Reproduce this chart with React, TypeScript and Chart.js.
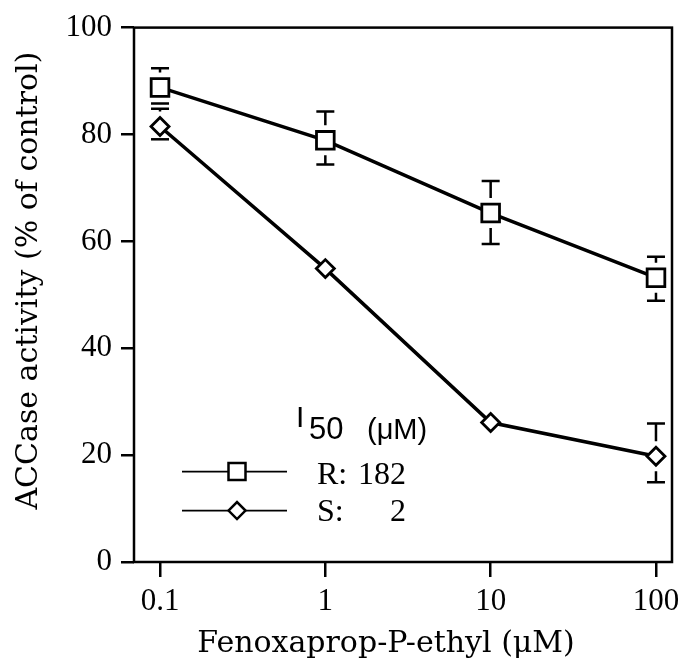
import React, { useEffect, useRef } from "react";
import { Chart, registerables } from "chart.js";

Chart.register(...registerables);

// ---- data ----
const concentrations = [0.1, 1, 10, 100];
const resistantMeans = [88.8, 78.9, 65.3, 53.2];
const resistantUpper = [92.4, 84.3, 71.3, 57.1];
const resistantLower = [85.8, 74.4, 59.5, 48.9];
const susceptibleMeans = [81.5, 54.9, 26.1, 19.8];
const susceptibleUpper: (number | null)[] = [84.8, null, null, 25.9];
const susceptibleLower: (number | null)[] = [79.1, null, null, 14.9];

const xTickValues = [0.1, 1, 10, 100];
const xTickLabels = ["0.1", "1", "10", "100"];
const yTickValues = [0, 20, 40, 60, 80, 100];

const xTitle = "Fenoxaprop-P-ethyl (μM)";
const yTitle = "ACCase activity (% of control)";
const legendHeading = ["I", "50", "(μM)"];
const legendNames = ["R:", "S:"];
const legendI50 = ["182", "2"];

const TICK_FONT = { family: "'Liberation Serif', serif", size: 31 };

const framePlugin = {
  id: "frame",
  beforeDatasetsDraw(chart: any) {
    const { ctx, chartArea: a } = chart;
    ctx.save();
    ctx.strokeStyle = "#000";
    ctx.lineWidth = 2.5;
    ctx.strokeRect(a.left, a.top, a.right - a.left, a.bottom - a.top);
    ctx.restore();
  },
};

const errorBarPlugin = {
  id: "errorBars",
  afterDatasetsDraw(chart: any) {
    const { ctx } = chart;
    const x = chart.scales.x;
    const y = chart.scales.y;
    const series = [
      { means: resistantMeans, up: resistantUpper, lo: resistantLower, half: 9 },
      { means: susceptibleMeans, up: susceptibleUpper, lo: susceptibleLower, half: 9 },
    ];
    const gap = 6;
    const capHalf = 9;
    ctx.save();
    ctx.strokeStyle = "#000";
    ctx.lineWidth = 2.5;
    series.forEach((s) => {
      concentrations.forEach((c, i) => {
        const px = x.getPixelForValue(c);
        const py = y.getPixelForValue(s.means[i]);
        const u = s.up[i];
        const l = s.lo[i];
        if (u != null) {
          const pu = y.getPixelForValue(u);
          ctx.beginPath();
          ctx.moveTo(px - capHalf, pu);
          ctx.lineTo(px + capHalf, pu);
          const end = py - s.half - gap;
          if (end > pu) {
            ctx.moveTo(px, pu);
            ctx.lineTo(px, end);
          }
          ctx.stroke();
        }
        if (l != null) {
          const pl = y.getPixelForValue(l);
          ctx.beginPath();
          ctx.moveTo(px - capHalf, pl);
          ctx.lineTo(px + capHalf, pl);
          const start = py + s.half + gap;
          if (start < pl) {
            ctx.moveTo(px, pl);
            ctx.lineTo(px, start);
          }
          ctx.stroke();
        }
      });
    });
    ctx.restore();
  },
};

const titlesPlugin = {
  id: "axisTitles",
  afterDraw(chart: any) {
    const { ctx, chartArea: a } = chart;
    ctx.save();
    ctx.fillStyle = "#000";
    ctx.font = "30px 'DejaVu Serif', serif";
    ctx.textAlign = "center";
    ctx.textBaseline = "alphabetic";
    ctx.fillText(xTitle, a.left + 252, a.bottom + 90);
    ctx.translate(37, a.top + 253);
    ctx.rotate(-Math.PI / 2);
    ctx.fillText(yTitle, 0, 0);
    ctx.restore();
  },
};

const legendPlugin = {
  id: "i50Legend",
  afterDraw(chart: any) {
    const { ctx, chartArea: a } = chart;
    ctx.save();
    ctx.fillStyle = "#000";
    ctx.strokeStyle = "#000";
    ctx.textAlign = "left";
    ctx.textBaseline = "alphabetic";
    ctx.font = "30px 'Liberation Sans', sans-serif";
    ctx.fillText(legendHeading[0], a.left + 162, a.top + 399);
    ctx.font = "31px 'Liberation Sans', sans-serif";
    ctx.fillText(legendHeading[1], a.left + 175, a.top + 411);
    ctx.font = "29px 'Liberation Sans', sans-serif";
    ctx.fillText(legendHeading[2], a.left + 233, a.top + 411);

    const rows = [
      { y: a.top + 444, base: a.top + 456, style: "rect" },
      { y: a.top + 483, base: a.top + 493, style: "diamond" },
    ];
    rows.forEach((r, i) => {
      ctx.lineWidth = 1.8;
      ctx.beginPath();
      ctx.moveTo(a.left + 48, r.y);
      ctx.lineTo(a.left + 153, r.y);
      ctx.stroke();
      const cx = a.left + 103;
      ctx.fillStyle = "#fff";
      ctx.lineWidth = 2.5;
      ctx.beginPath();
      if (r.style === "rect") {
        ctx.rect(cx - 8.5, r.y - 8.5, 17, 17);
      } else {
        ctx.moveTo(cx - 8.5, r.y);
        ctx.lineTo(cx, r.y - 8.5);
        ctx.lineTo(cx + 8.5, r.y);
        ctx.lineTo(cx, r.y + 8.5);
        ctx.closePath();
      }
      ctx.fill();
      ctx.stroke();
      ctx.fillStyle = "#000";
      ctx.font = "32px 'Liberation Serif', serif";
      ctx.textAlign = "left";
      ctx.fillText(legendNames[i], a.left + 183, r.base);
      ctx.textAlign = "right";
      ctx.fillText(legendI50[i], a.left + 272, r.base);
    });
    ctx.restore();
  },
};

export default function App() {
  const ref = useRef<HTMLCanvasElement | null>(null);

  useEffect(() => {
    const canvas = ref.current;
    if (!canvas) return;
    const chart = new Chart(canvas, {
      type: "line",
      data: {
        datasets: [
          {
            label: "R",
            data: concentrations.map((c, i) => ({ x: c, y: resistantMeans[i] })),
            borderColor: "#000",
            borderWidth: 3.5,
            pointStyle: "rect",
            pointRadius: 12.5,
            pointBorderWidth: 2.8,
            pointBackgroundColor: "#fff",
            pointBorderColor: "#000",
            tension: 0,
            fill: false,
          },
          {
            label: "S",
            data: concentrations.map((c, i) => ({ x: c, y: susceptibleMeans[i] })),
            borderColor: "#000",
            borderWidth: 3.5,
            pointStyle: "rectRot",
            pointRadius: 9,
            pointBorderWidth: 2.8,
            pointBackgroundColor: "#fff",
            pointBorderColor: "#000",
            tension: 0,
            fill: false,
          },
        ],
      },
      options: {
        responsive: false,
        animation: false,
        devicePixelRatio: 1,
        layout: { autoPadding: false, padding: { top: 26, right: 6, left: 0, bottom: 0 } },
        plugins: {
          legend: { display: false },
          tooltip: { enabled: false },
          title: { display: false },
        },
        scales: {
          x: {
            type: "logarithmic",
            min: 0.0696,
            max: 125,
            afterBuildTicks: (s: any) => {
              s.ticks = xTickValues.map((v) => ({ value: v }));
            },
            afterFit: (s: any) => {
              s.height = 97;
              s.paddingLeft = 0;
              s.paddingRight = 0;
            },
            ticks: {
              callback: (v: any) => {
                const k = xTickValues.indexOf(Number(v));
                return k >= 0 ? xTickLabels[k] : "";
              },
              font: TICK_FONT,
              color: "#000",
              padding: 6,
              maxRotation: 0,
              autoSkip: false,
            },
            grid: {
              display: true,
              drawOnChartArea: false,
              drawTicks: true,
              tickLength: 15,
              tickWidth: 2.5,
              lineWidth: 2.5,
              tickColor: "#000",
              color: "#000",
            },
            border: { display: false },
          },
          y: {
            type: "linear",
            min: 0,
            max: 100,
            afterBuildTicks: (s: any) => {
              s.ticks = yTickValues.map((v) => ({ value: v }));
            },
            afterFit: (s: any) => {
              s.width = 134;
            },
            ticks: {
              font: TICK_FONT,
              color: "#000",
              padding: 9,
            },
            grid: {
              display: true,
              drawOnChartArea: false,
              drawTicks: true,
              tickLength: 13,
              tickWidth: 2.5,
              lineWidth: 2.5,
              tickColor: "#000",
              color: "#000",
            },
            border: { display: false },
          },
        },
      } as any,
      plugins: [framePlugin, errorBarPlugin, titlesPlugin, legendPlugin],
    });
    return () => chart.destroy();
  }, []);

  return (
    <div
      style={{
        position: "absolute",
        left: 0,
        top: 0,
        width: 678,
        height: 659,
        background: "#fff",
      }}
    >
      <canvas ref={ref} width={678} height={659} />
    </div>
  );
}
